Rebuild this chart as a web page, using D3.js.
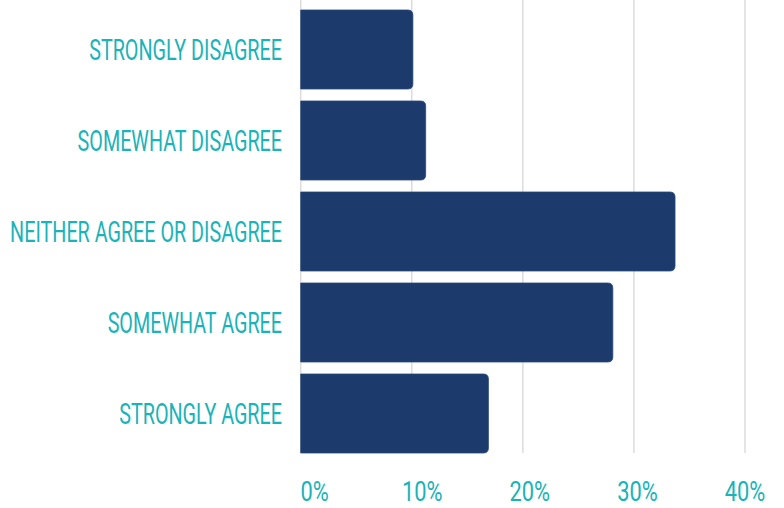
<!DOCTYPE html>
<html>
<head>
<meta charset="utf-8">
<script src="https://cdn.jsdelivr.net/npm/d3@7"></script>
<style>
  html, body { margin: 0; padding: 0; background: #ffffff; }
  svg { display: block; }
  text { font-family: Roboto, "Noto Sans", sans-serif; }
</style>
</head>
<body>
<svg id="chart" width="784" height="508"></svg>
<script>
// Survey responses, share of respondents (%)
const categories = [
  "STRONGLY DISAGREE",
  "SOMEWHAT DISAGREE",
  "NEITHER AGREE OR DISAGREE",
  "SOMEWHAT AGREE",
  "STRONGLY AGREE"
];
const values = [10.1, 11.25, 33.7, 28.1, 16.9];
const tickValues = [0, 10, 20, 30, 40];
const tickLabels = ["0%", "10%", "20%", "30%", "40%"];

const W = 784, H = 508;
const barColor = "#1c3a6b";
const textColor = "#19b3b8";
const gridColor = "#dcdcdc";

const svg = d3.select("#chart");

const x = d3.scaleLinear().domain([0, 40]).range([300.7, 745]);
const y = d3.scaleBand().domain(categories).range([10, 453]).paddingInner(0.132);

// vertical gridlines
svg.append("g")
  .selectAll("line")
  .data(tickValues)
  .join("line")
  .attr("x1", d => x(d)).attr("x2", d => x(d))
  .attr("y1", 0).attr("y2", y.range()[1])
  .attr("stroke", gridColor)
  .attr("stroke-width", 1.5);

// bars with rounded right-hand corners
function barPath(x0, x1, y0, h, r) {
  r = Math.min(r, (x1 - x0) / 2, h / 2);
  return `M${x0},${y0}H${x1 - r}Q${x1},${y0} ${x1},${y0 + r}` +
         `V${y0 + h - r}Q${x1},${y0 + h} ${x1 - r},${y0 + h}H${x0}Z`;
}
svg.append("g")
  .selectAll("path")
  .data(categories.map((c, i) => ({ c, v: values[i] })))
  .join("path")
  .attr("d", d => barPath(x(0), x(d.v), y(d.c), y.bandwidth(), 5))
  .attr("fill", barColor)
  .attr("stroke", "#2a4a7c")
  .attr("stroke-width", 0.8);

// category labels, condensed to fit the left margin
const labelRight = 282, labelLeft = 10;
const catG = svg.append("g");
const cats = catG.selectAll("text")
  .data(categories)
  .join("text")
  .attr("text-anchor", "end")
  .attr("font-size", 30)
  .attr("font-weight", 400)
  .attr("fill", textColor)
  .text(d => d);
let maxW = 0;
cats.each(function () { maxW = Math.max(maxW, this.getComputedTextLength()); });
const sx = (labelRight - labelLeft) / maxW;
cats.attr("transform", d =>
  `translate(${labelRight},${y(d) + y.bandwidth() / 2 + 10.5}) scale(${sx},1)`);

// axis labels
const labelX = x.copy().range([x(0) + 14, x(40)]);
svg.append("g")
  .selectAll("text")
  .data(tickValues)
  .join("text")
  .attr("text-anchor", "middle")
  .attr("font-size", 28)
  .attr("font-weight", 400)
  .attr("fill", textColor)
  .attr("transform", d => `translate(${labelX(d)},500.5) scale(0.78,1)`)
  .text((d, i) => tickLabels[i]);
</script>
</body>
</html>
